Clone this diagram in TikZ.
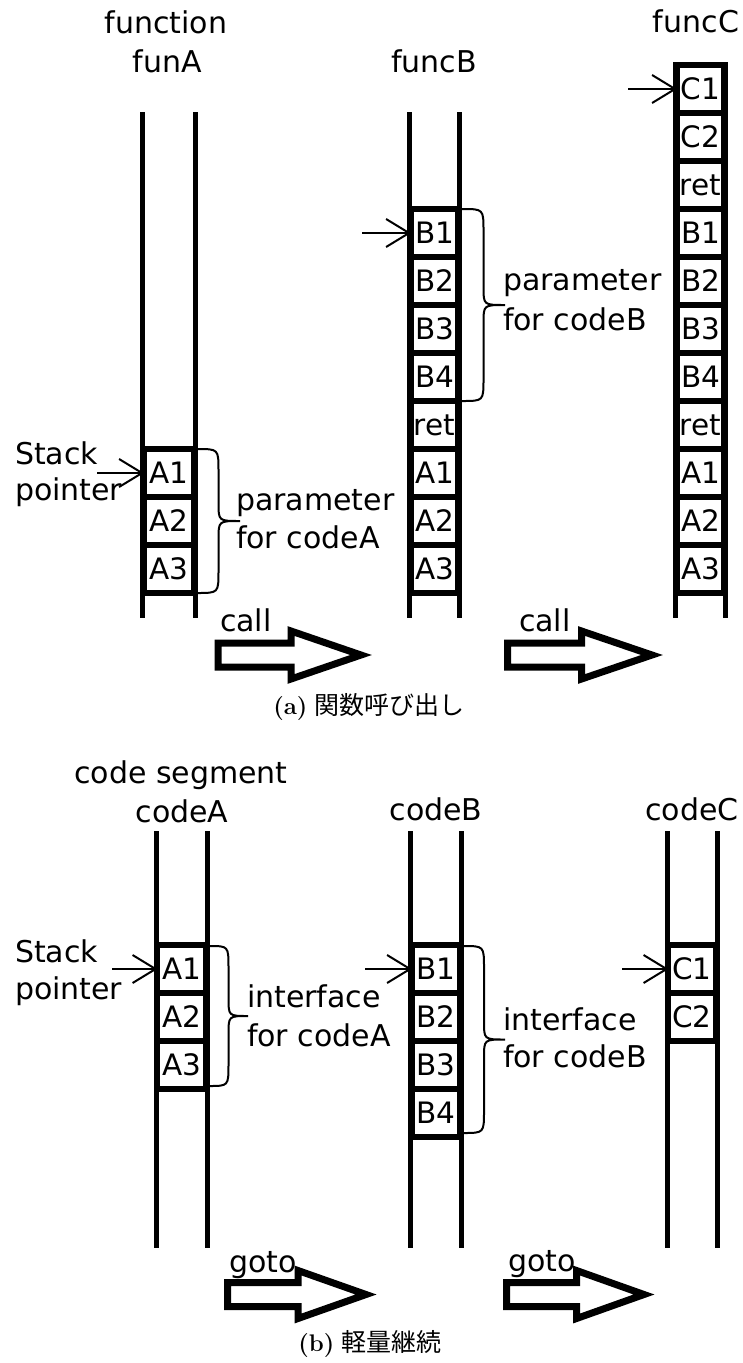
\documentclass[tikz,border=0pt]{standalone}
\usepackage{fontspec}
\newfontfamily\dejavu{DejaVu Sans}
\newfontfamily\cjk{Noto Sans CJK JP}
\usetikzlibrary{arrows.meta}

\tikzset{
  lbl/.style={font=\dejavu\fontsize{30}{36}\selectfont, inner sep=0pt, outer sep=0pt},
  cellbox/.style={draw, line width=5.5pt, inner sep=0pt, outer sep=0pt,
    minimum height=48pt, font=\dejavu\fontsize{29.5}{35}\selectfont},
  rail/.style={line width=5pt},
  ptr/.style={line width=2pt, -{Straight Barb[length=23pt,width=28pt,line width=2pt]}},
  hollow/.style={line width=7pt, fill=white, line join=miter},
  bracepath/.style={line width=2pt},
  captionlbl/.style={font=\fontsize{24}{29}\selectfont, inner sep=0pt},
}

% caption text: bold tag, Japanese title
\newcommand\subcap[2]{\textbf{(#1)} {\cjk\fontsize{25}{30}\selectfont #2}}

% a column of stack cells between two rails: name prefix, left x, right x, top y, contents
\newcommand\cellstack[5]{%
  \foreach \t [count=\i] in {#5} {
    \node[cellbox, minimum width={(#3-#2-3)*1pt}, anchor=north] (#1\i)
      at ({(#2+#3)/2},{#4+(\i-1)*48}) {\t};
  }%
}

% curly brace on the right of a stack: x, top y, bottom y, tip x
\newcommand\sidebrace[4]{%
  \pgfmathsetmacro\bxa{#1+(#4-#1)/2}%
  \pgfmathsetmacro\bym{(#2+#3)/2}%
  \pgfmathsetmacro\byta{#2+22}%
  \pgfmathsetmacro\bymu{\bym-18}%
  \pgfmathsetmacro\bymd{\bym+18}%
  \pgfmathsetmacro\bybb{#3-22}%
  \draw[bracepath] (#1,#2) .. controls (\bxa,#2) and (\bxa,#2) .. (\bxa,\byta)
    -- (\bxa,\bymu) .. controls (\bxa,\bym) and (\bxa,\bym) .. (#4,\bym)
    .. controls (\bxa,\bym) and (\bxa,\bym) .. (\bxa,\bymd)
    -- (\bxa,\bybb) .. controls (\bxa,#3) and (\bxa,#3) .. (#1,#3);
}

% outlined transfer arrow: origin x, centre y, head start, tip
\newcommand\hollowarrow[4]{%
  \draw[hollow, shift={(#1,#2)}] (0,-12) -- (#3,-12) -- (#3,-24) -- (#4,0)
    -- (#3,24) -- (#3,12) -- (0,12) -- cycle;
}

\begin{document}
\begin{tikzpicture}[x=1pt, y=-1pt]
\useasboundingbox (0,0) rectangle (743,1363);

% ---------- (a) function call ----------
\node[lbl, anchor=base] (tFunction) at (166,33) {function};
\node[lbl, anchor=base] (tFunA) at (167,72) {funA};
\node[lbl, anchor=base] (tFuncB) at (434,72) {funcB};
\node[lbl, anchor=base] (tFuncC) at (696,32) {funcC};

\draw[rail] (142.5,112) -- (142.5,618);
\draw[rail] (195,112) -- (195,618);
\draw[rail] (409.5,112) -- (409.5,618);
\draw[rail] (459.5,112) -- (459.5,618);
\draw[rail] (675.5,62) -- (675.5,618);
\draw[rail] (725.5,62) -- (725.5,618);

\cellstack{fa}{142.5}{195}{449}{A1,A2,A3}
\cellstack{fb}{409.5}{459.5}{209}{B1,B2,B3,B4,ret,A1,A2,A3}
\cellstack{fc}{675.5}{725.5}{65}{C1,C2,ret,B1,B2,B3,B4,ret,A1,A2,A3}

\node[lbl, anchor=base west] (spA1) at (15,464) {Stack};
\node[lbl, anchor=base west] (spA2) at (15,500) {pointer};
\coordinate (pa) at (97,473);
\coordinate (pb) at (362,233);
\coordinate (pc) at (628,89);
\draw[ptr] (pa) -- (fa1.west);
\draw[ptr] (pb) -- (fb1.west);
\draw[ptr] (pc) -- (fc1.west);

\sidebrace{197}{449}{593}{240}
\node[lbl, anchor=base west] (parA1) at (236,510) {parameter};
\node[lbl, anchor=base west] (parA2) at (236,548) {for codeA};
\sidebrace{462}{209}{401}{505}
\node[lbl, anchor=base west] (parB1) at (503,290) {parameter};
\node[lbl, anchor=base west] (parB2) at (503,330) {for codeB};

\node[lbl, anchor=base west] (call1) at (220,631) {call};
\node[lbl, anchor=base west] (call2) at (519,631) {call};
\hollowarrow{218}{655}{73}{143}
\hollowarrow{507.5}{655}{74}{144.5}

\node[captionlbl, anchor=base] (capA) at (369,714) {\subcap{a}{関数呼び出し}};

% ---------- (b) light-weight continuation ----------
\node[lbl, anchor=base] (tSeg) at (181,783) {code segment};
\node[lbl, anchor=base] (tCodeA) at (182,822) {codeA};
\node[lbl, anchor=base] (tCodeB) at (436,820) {codeB};
\node[lbl, anchor=base] (tCodeC) at (692,820) {codeC};

\draw[rail] (156,831) -- (156,1248);
\draw[rail] (207,831) -- (207,1248);
\draw[rail] (410.5,831) -- (410.5,1248);
\draw[rail] (461,831) -- (461,1248);
\draw[rail] (667,831) -- (667,1248);
\draw[rail] (717,831) -- (717,1248);

\cellstack{ga}{156}{207}{945}{A1,A2,A3}
\cellstack{gb}{410.5}{461}{945}{B1,B2,B3,B4}
\cellstack{gc}{667}{717}{945}{C1,C2}

\node[lbl, anchor=base west] (spB1) at (15,962) {Stack};
\node[lbl, anchor=base west] (spB2) at (15,999) {pointer};
\coordinate (qa) at (112,969);
\coordinate (qb) at (365,969);
\coordinate (qc) at (622,969);
\draw[ptr] (qa) -- (ga1.west);
\draw[ptr] (qb) -- (gb1.west);
\draw[ptr] (qc) -- (gc1.west);

\sidebrace{209}{946}{1086}{248}
\node[lbl, anchor=base west] (ifA1) at (247,1007) {interface};
\node[lbl, anchor=base west] (ifA2) at (247,1046) {for codeA};
\sidebrace{463}{946}{1133}{505}
\node[lbl, anchor=base west] (ifB1) at (503,1030) {interface};
\node[lbl, anchor=base west] (ifB2) at (503,1067) {for codeB};

\node[lbl, anchor=base west] (goto1) at (229,1272) {goto};
\node[lbl, anchor=base west] (goto2) at (508,1271) {goto};
\hollowarrow{227.5}{1294.5}{70.5}{138.5}
\hollowarrow{506.5}{1294.5}{70}{137.5}

\node[captionlbl, anchor=base] (capB) at (370,1351) {\subcap{b}{軽量継続}};
\end{tikzpicture}
\end{document}
